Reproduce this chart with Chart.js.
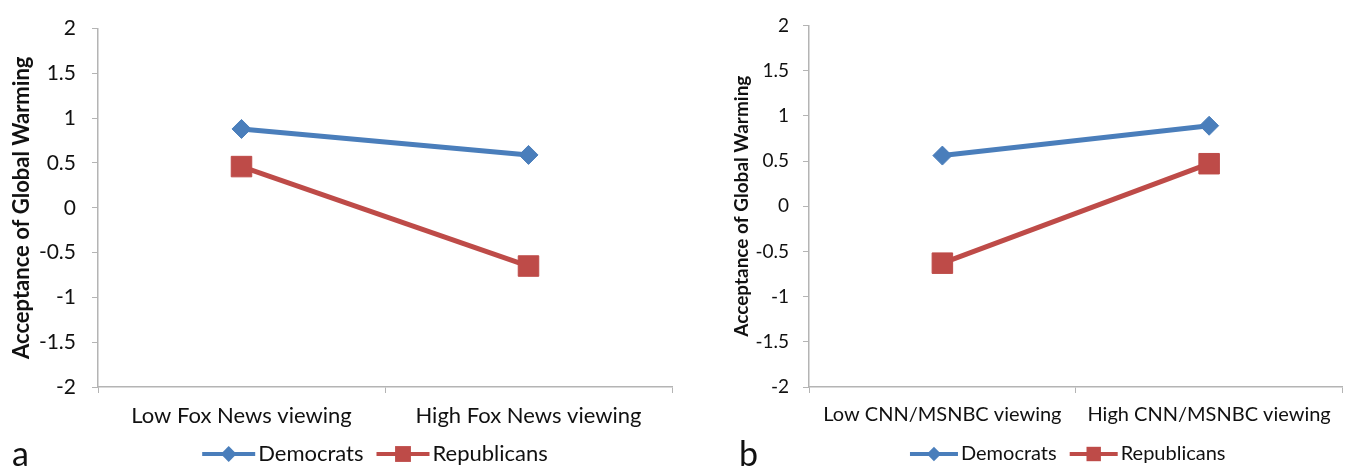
<!DOCTYPE html>
<html>
<head>
<meta charset="utf-8">
<script src="https://cdn.jsdelivr.net/npm/chart.js@4.4.1/dist/chart.umd.min.js"></script>
<style>
  html, body { margin: 0; padding: 0; background: #fff; }
  body { width: 1358px; height: 471px; position: relative; overflow: hidden; font-family: Lato, sans-serif; }
  .panel { position: absolute; top: 0; height: 471px; }
  #wrapA { left: 0; width: 690px; }
  #wrapB { left: 690px; width: 668px; }
  .tag { position: absolute; top: 436px; font-size: 34px; color: #111; line-height: 1; }
</style>
</head>
<body>
<div class="panel" id="wrapA"><canvas id="chartA"></canvas></div>
<div class="panel" id="wrapB"><canvas id="chartB"></canvas></div>
<div class="tag" style="left:12px">a</div>
<div class="tag" style="left:739px">b</div>
<script>
// Data
const categoriesA = ['Low Fox News viewing', 'High Fox News viewing'];
const categoriesB = ['Low CNN/MSNBC viewing', 'High CNN/MSNBC viewing'];
const demsA = [0.88, 0.59];
const repsA = [0.46, -0.65];
const demsB = [0.56, 0.89];
const repsB = [-0.63, 0.47];
const yTitle = 'Acceptance of Global Warming';

const BLUE = '#4a7ebb';
const RED = '#be4b48';
const AXIS = '#b4b4b4';

// legend: line with marker in the middle, then label
const lineLegend = {
  id: 'lineLegend',
  afterDraw(chart, args, opts) {
    const ctx = chart.ctx;
    const area = chart.chartArea;
    ctx.save();
    ctx.font = opts.size + 'px Lato';
    ctx.textBaseline = 'middle';
    const items = chart.data.datasets.map(ds => ({ ds, w: ctx.measureText(ds.label).width }));
    const total = items.reduce((s, it) => s + opts.lineLen + 3 + it.w, 0) + opts.gap * (items.length - 1);
    let x = (area.left + area.right) / 2 - total / 2 + opts.shift;
    const y = opts.y;
    items.forEach(it => {
      const c = it.ds.borderColor;
      ctx.strokeStyle = c;
      ctx.fillStyle = c;
      ctx.lineWidth = 4;
      ctx.beginPath();
      ctx.moveTo(x, y);
      ctx.lineTo(x + opts.lineLen, y);
      ctx.stroke();
      const cx = x + opts.lineLen / 2;
      ctx.beginPath();
      if (it.ds.pointStyle === 'rectRot') {
        const r = opts.size * 0.36;
        ctx.moveTo(cx - r, y); ctx.lineTo(cx, y - r); ctx.lineTo(cx + r, y); ctx.lineTo(cx, y + r);
        ctx.closePath();
      } else {
        const h = opts.size * 0.36;
        ctx.rect(cx - h, y - h, 2 * h, 2 * h);
      }
      ctx.fill();
      x += opts.lineLen + 3;
      ctx.fillStyle = '#111';
      ctx.fillText(it.ds.label, x, y);
      x += it.w + opts.gap;
    });
    ctx.restore();
  }
};

function makeChart(id, cats, dems, reps, s) {
  const ctx = document.getElementById(id).getContext('2d');
  return new Chart(ctx, {
    type: 'line',
    data: {
      labels: cats,
      datasets: [
        { label: 'Democrats', data: dems, borderColor: BLUE, backgroundColor: BLUE,
          borderWidth: 5, pointStyle: 'rectRot', pointRadius: 9.5, pointHoverRadius: 9.5,
          pointBorderWidth: 1 },
        { label: 'Republicans', data: reps, borderColor: RED, backgroundColor: RED,
          borderWidth: 5, pointStyle: 'rect', pointRadius: 14.5, pointHoverRadius: 14.5,
          pointBorderWidth: 1 }
      ]
    },
    options: {
      responsive: true,
      maintainAspectRatio: false,
      animation: false,
      events: [],
      layout: { padding: { left: 0, top: s.top, right: s.right, bottom: 0 } },
      plugins: {
        legend: { display: false },
        tooltip: { enabled: false },
        lineLegend: { size: s.legendSize, lineLen: s.lineLen, gap: s.legendGap, y: 454, shift: s.legendShift }
      },
      scales: {
        x: {
          offset: true,
          grid: { offset: true, drawOnChartArea: false, color: AXIS, tickLength: 6 },
          border: { color: AXIS, width: 1.5 },
          ticks: { color: '#111', font: { family: 'Lato', size: s.xSize }, padding: 10, maxRotation: 0 },
          afterFit: sc => { sc.height = 471 - 387; }
        },
        y: {
          min: -2, max: 2,
          grid: { drawOnChartArea: false, color: AXIS, tickLength: 6 },
          border: { color: AXIS, width: 1.5 },
          ticks: { stepSize: 0.5, color: '#111', font: { family: 'Lato', size: s.ySize }, padding: s.yPad,
            callback: v => String(Math.round(v * 10) / 10) },
          title: { display: true, text: yTitle, color: '#111',
            font: { family: 'Lato', size: s.titleSize, weight: 'bold' }, padding: { top: s.titlePad, bottom: 0 } },
          afterFit: sc => { sc.width = s.axisX; }
        }
      }
    },
    plugins: [lineLegend]
  });
}

makeChart('chartA', categoriesA, demsA, repsA, {
  top: 20, right: 690 - 672, axisX: 98, xSize: 22, ySize: 21, yPad: 16, titleSize: 22, titlePad: 9,
  legendSize: 22, lineLen: 53, legendGap: 13, legendShift: -10
});
makeChart('chartB', categoriesB, demsB, repsB, {
  top: 22, right: 668 - 665, axisX: 119, xSize: 20, ySize: 19, yPad: 14, titleSize: 19, titlePad: 40,
  legendSize: 20, lineLen: 48, legendGap: 13, legendShift: -8
});
</script>
</body>
</html>
